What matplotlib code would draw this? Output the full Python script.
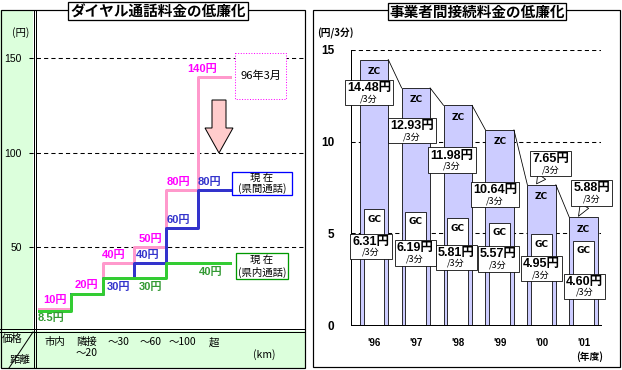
import numpy as np
import matplotlib
matplotlib.use('Agg')
import matplotlib.pyplot as plt
from matplotlib.patches import Rectangle, Polygon
from matplotlib.offsetbox import TextArea, VPacker, AnnotationBbox

# ---------------- data: left chart (dial call rates, yen / 3 min) ----------------
distance_labels = ["市内", "隣接\n～20", "～30", "～60", "～100", "超"]
rate_1996_03 = [10, 20, 40, 50, 80, 140]          # 96年3月
rate_inter_now = [np.nan, 20, 30, 40, 60, 80]     # 現在(県間通話)
rate_intra_now = [8.5, 20, 30, 30, 40, 40]        # 現在(県内通話)
left_yticks = [50, 100, 150]

# ---------------- data: right chart (interconnection charges, yen / 3 min) ----------------
years = ["'96", "'97", "'98", "'99", "'00", "'01"]
zc_rates = [14.48, 12.93, 11.98, 10.64, 7.65, 5.88]
gc_rates = [6.31, 6.19, 5.81, 5.57, 4.95, 4.60]
right_yticks = [0, 5, 10, 15]

W, H = 622, 370
fig = plt.figure(figsize=(W / 100, H / 100), dpi=100)

def rect(x0, y0, x1, y1):
    return [x0 / W, 1 - y1 / H, (x1 - x0) / W, (y1 - y0) / H]

JP = ['Noto Sans CJK JP', 'DejaVu Sans']
NUM = ['Liberation Sans', 'Noto Sans CJK JP']
NARROW = ['Liberation Sans Narrow', 'Liberation Sans', 'Noto Sans CJK JP']
PX = 0.72  # 1 px in points

# ---------------- background overlay ----------------
bg = fig.add_axes([0, 0, 1, 1], zorder=0)
bg.set_xlim(0, W); bg.set_ylim(H, 0); bg.axis('off')
GREEN_BG = '#dcffdc'
bg.add_patch(Rectangle((0, 10), 33, 358, fc=GREEN_BG, ec='none'))
bg.add_patch(Rectangle((0, 331), 305, 37, fc=GREEN_BG, ec='none'))
bg.add_patch(Rectangle((0.5, 10), 304.5, 358, fc='none', ec='black', lw=1.2 * PX))
for xx in (33.5, 36):
    bg.plot([xx, xx], [10, 368], color='black', lw=1 * PX)
for yy in (328.5, 331.5):
    bg.plot([0, 305], [yy, yy], color='black', lw=1 * PX)
bg.plot([33, 9], [332, 368], color='black', lw=1 * PX)
bg.add_patch(Rectangle((313, 10), 307, 357, fc='none', ec='black', lw=1.2 * PX))

# ---------------- left chart ----------------
axL = fig.add_axes(rect(29, 10, 305, 329), zorder=1)
axL.patch.set_visible(False)
SEG0, SEGW = 39, 31.8
axL.set_xlim((29 - SEG0) / SEGW, (305 - SEG0) / SEGW)

K1, K2, BR = 1.55, 1.89, 50.0
def fwd(y):
    y = np.asarray(y, float)
    return np.where(y <= BR, K1 * y, K1 * BR + K2 * (y - BR))
def inv(v):
    v = np.asarray(v, float)
    return np.where(v <= K1 * BR, v / K1, BR + (v - K1 * BR) / K2)
axL.set_yscale('function', functions=(fwd, inv))
axL.set_ylim(-2.9, 175.4)
for s in axL.spines.values():
    s.set_visible(False)
axL.set_yticks(left_yticks)
axL.set_yticklabels([str(v) for v in left_yticks], fontsize=7.5, family=NUM)
axL.yaxis.grid(True, ls=(0, (4, 3)), color='black', lw=0.75)
axL.tick_params(axis='y', length=0, pad=5)
xs = np.arange(len(distance_labels) + 1)
axL.set_xticks(xs[:-1] + 0.5)
axL.set_xticklabels(distance_labels, fontsize=7.5, family=JP, linespacing=1.05)
axL.tick_params(axis='x', length=0, pad=6)

def ext(v):
    return list(v) + [v[-1]]

PINK, BLUE, GREEN = '#ff99cc', '#3333cc', '#33cc33'
LW = 3 * PX
axL.step(xs, ext(rate_1996_03), where='post', color=PINK, lw=LW)
axL.step(xs, ext(rate_inter_now), where='post', color=BLUE, lw=LW)
axL.step(xs, ext(rate_intra_now), where='post', color=GREEN, lw=LW)

def fmt(v):
    return f"{v:g}円"

# (segment, dx px, dy px)
pink_lbl = [(0, 0, 9), (1, 0, 9), (2, -5, 8), (3, 0, 8), (4, -4, 8), (5, -12, 8)]
blue_lbl = [(2, 0, -9), (3, -3, 8), (4, -4, 8), (5, -4, 8)]
green_lbl = [(0, -4, -7), (3, 0, -9), (5, -3, -9)]
for series, lbls, col in ((rate_1996_03, pink_lbl, '#ff00ff'),
                          (rate_inter_now, blue_lbl, BLUE),
                          (rate_intra_now, green_lbl, '#339933')):
    for k, dx, dy in lbls:
        axL.annotate(fmt(series[k]), xy=(k + 0.5, series[k]), xytext=(dx, dy),
                     textcoords='offset pixels', ha='center', va='center',
                     fontsize=8, fontweight='bold', color=col, family=NUM)

# ---------------- right chart ----------------
axR = fig.add_axes(rect(351, 50, 601, 325), zorder=1)
axR.patch.set_visible(False)
C0, CW = 374, 41.9
axR.set_xlim((351 - C0) / CW, (601 - C0) / CW)
axR.set_ylim(0, 15)
xr = np.arange(len(years))
BW, IW = 0.68, 0.5
axR.bar(xr, zc_rates, width=BW, color='#ccccff', edgecolor='black', lw=0.8 * PX, zorder=2)
axR.bar(xr, gc_rates, width=IW, color='white', edgecolor='black', lw=0.8 * PX, zorder=2)
for i in range(len(years) - 1):
    axR.plot([xr[i] + BW / 2, xr[i + 1] - BW / 2], [zc_rates[i], zc_rates[i + 1]],
             color='black', lw=0.8 * PX, zorder=2)
for i in range(len(years)):
    axR.annotate('ZC', xy=(xr[i], zc_rates[i]), xytext=(0, -12), textcoords='offset pixels',
                 ha='center', va='center', fontsize=6.5, fontweight='bold', zorder=3)
    axR.annotate('GC', xy=(xr[i], gc_rates[i]), xytext=(0, -10), textcoords='offset pixels',
                 ha='center', va='center', fontsize=6.5, fontweight='bold', zorder=3)

axR.set_yticks(right_yticks)
axR.set_yticklabels([str(v) for v in right_yticks], fontsize=8.5, fontweight='bold', family=NUM)
axR.set_xticks(xr)
axR.set_xticklabels(years, fontsize=7, fontweight='bold', family=NUM)
axR.tick_params(axis='y', length=0, pad=12)
axR.tick_params(axis='x', length=0, pad=9)
axR.yaxis.grid(True, ls=(0, (4, 3)), color='black', lw=0.75)
axR.set_axisbelow(True)
for side in ('top', 'right'):
    axR.spines[side].set_visible(False)
for side in ('left', 'bottom'):
    axR.spines[side].set_linewidth(1 * PX)
    axR.spines[side].set_zorder(4)

def value_box(val):
    t1 = TextArea(f"{val:.2f}円", textprops=dict(fontsize=9, fontweight='bold', family=NARROW))
    t2 = TextArea("/3分", textprops=dict(fontsize=6.5, family=JP))
    return VPacker(children=[t1, t2], align='center', pad=0, sep=0)

# layout: label box centres (x offset from bar, y in chart units)
zc_box_pos = [(-0.12, 12.66), (-0.09, 10.6), (-0.14, 9.0), (-0.11, 7.1), (0.22, 8.8), (0.2, 7.2)]
gc_box_pos = [(-0.07, 4.3), (-0.02, 3.93), (-0.04, 3.7), (-0.04, 3.6), (-0.01, 3.06), (0.02, 2.1)]
callout = [False, False, False, False, True, True]
for i in range(len(years)):
    dx, yy = zc_box_pos[i]
    if callout[i]:
        ab = AnnotationBbox(value_box(zc_rates[i]), xy=(xr[i] - 0.12, zc_rates[i] + 0.05),
                            xybox=(xr[i] + dx, yy), xycoords='data', boxcoords='data',
                            frameon=True, pad=0.15,
                            bboxprops=dict(fc='white', ec='black', lw=0.8 * PX),
                            arrowprops=dict(arrowstyle='wedge,tail_width=0.5', fc='white',
                                            ec='black', lw=0.8 * PX, shrinkA=0, shrinkB=0))
    else:
        ab = AnnotationBbox(value_box(zc_rates[i]), xy=(xr[i] + dx, yy), xycoords='data',
                            frameon=True, pad=0.15,
                            bboxprops=dict(fc='white', ec='black', lw=0.8 * PX))
    ab.set_zorder(5)
    axR.add_artist(ab)
    dx, yy = gc_box_pos[i]
    ab = AnnotationBbox(value_box(gc_rates[i]), xy=(xr[i] + dx, yy), xycoords='data',
                        frameon=True, pad=0.15,
                        bboxprops=dict(fc='white', ec='black', lw=0.8 * PX))
    ab.set_zorder(5)
    axR.add_artist(ab)

# ---------------- foreground overlay ----------------
fg = fig.add_axes([0, 0, 1, 1], zorder=3)
fg.set_xlim(0, W); fg.set_ylim(H, 0); fg.axis('off')
fg.patch.set_visible(False)

fg.add_patch(Rectangle((68, 2), 180, 18, fc='white', ec='black', lw=1.3 * PX))
fg.text(158, 11.5, "ダイヤル通話料金の低廉化", ha='center', va='center',
        fontsize=10.5, fontweight='bold', family=JP)
fg.add_patch(Rectangle((388, 3), 178, 17, fc='white', ec='black', lw=1.3 * PX))
fg.text(477, 11.5, "事業者間接続料金の低廉化", ha='center', va='center',
        fontsize=10.5, fontweight='bold', family=JP)

fg.text(21, 33, "(円)", ha='center', va='center', fontsize=7.5, family=JP)
fg.text(335, 33, "(円/3分)", ha='center', va='center', fontsize=7, fontweight='bold', family=JP)
fg.text(590, 357, "(年度)", ha='center', va='center', fontsize=7, fontweight='bold', family=JP)
fg.text(264, 355, "(km)", ha='center', va='center', fontsize=7.5, family=JP)
fg.text(12, 339, "価格", ha='center', va='center', fontsize=7.5, family=JP)
fg.text(20, 360, "距離", ha='center', va='center', fontsize=7.5, family=JP)

fg.add_patch(Rectangle((235, 53), 51, 46, fc='white', ec='#ff00ff', lw=1 * PX, ls=':'))
fg.text(260.5, 76, "96年3月", ha='center', va='center', fontsize=8, family=JP)
fg.add_patch(Polygon([(212, 100), (226, 100), (226, 128), (233, 128), (219, 153),
                      (205, 128), (212, 128)], closed=True, fc='#ffcccc', ec='black', lw=1 * PX))

fg.add_patch(Rectangle((232, 172), 60, 23, fc='white', ec='#0000ff', lw=1.3 * PX))
fg.text(262, 178, "現 在", ha='center', va='center', fontsize=7.5, family=JP)
fg.text(262, 189, "(県間通話)", ha='center', va='center', fontsize=7.5, family=JP)
fg.add_patch(Rectangle((236, 253), 52, 26, fc='white', ec='#009900', lw=1.3 * PX))
fg.text(262, 260, "現 在", ha='center', va='center', fontsize=7.5, family=JP)
fg.text(262, 272, "(県内通話)", ha='center', va='center', fontsize=7.5, family=JP)

fig.savefig('out.png', dpi=100)
